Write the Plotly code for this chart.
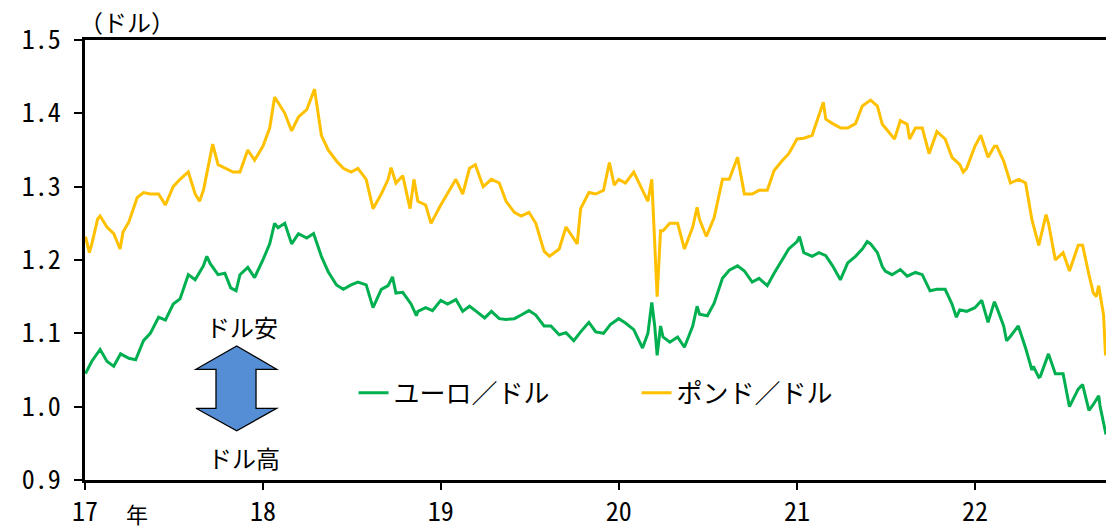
import plotly.graph_objects as go

# ユーロ／ドル (semi-monthly read-off plus turning points)
eur_dates = [
    "2017-01-02", "2017-01-15", "2017-02-01", "2017-02-15", "2017-03-01", "2017-03-15",
    "2017-04-01", "2017-04-15", "2017-05-01", "2017-05-15", "2017-06-01", "2017-06-15",
    "2017-07-01", "2017-07-15", "2017-08-01", "2017-08-15", "2017-09-01", "2017-09-08",
    "2017-09-15", "2017-10-01", "2017-10-15", "2017-10-27", "2017-11-07", "2017-11-15",
    "2017-12-01", "2017-12-15",
    "2018-01-01", "2018-01-15", "2018-01-25", "2018-02-01", "2018-02-15", "2018-03-01",
    "2018-03-15", "2018-04-01", "2018-04-15", "2018-05-01", "2018-05-15", "2018-06-01",
    "2018-06-15", "2018-07-01", "2018-07-15", "2018-08-01", "2018-08-15", "2018-09-01",
    "2018-09-15", "2018-09-24", "2018-10-01", "2018-10-15", "2018-11-01", "2018-11-12",
    "2018-11-15", "2018-12-01", "2018-12-15",
    "2019-01-01", "2019-01-15", "2019-02-01", "2019-02-15", "2019-03-01", "2019-03-15",
    "2019-04-01", "2019-04-15", "2019-05-01", "2019-05-15", "2019-06-01", "2019-06-15",
    "2019-07-01", "2019-07-15", "2019-08-01", "2019-08-15", "2019-09-01", "2019-09-15",
    "2019-10-01", "2019-10-15", "2019-11-01", "2019-11-15", "2019-12-01", "2019-12-15",
    "2020-01-01", "2020-01-15", "2020-02-01", "2020-02-19", "2020-03-01", "2020-03-09",
    "2020-03-15", "2020-03-20", "2020-03-27", "2020-04-01", "2020-04-15", "2020-05-01",
    "2020-05-15", "2020-06-01", "2020-06-10", "2020-06-15", "2020-07-01", "2020-07-15",
    "2020-08-01", "2020-08-15", "2020-09-01", "2020-09-15", "2020-10-01", "2020-10-15",
    "2020-11-01", "2020-11-15", "2020-12-01", "2020-12-15",
    "2021-01-01", "2021-01-06", "2021-01-15", "2021-02-01", "2021-02-15", "2021-03-01",
    "2021-03-15", "2021-03-31", "2021-04-15", "2021-05-01", "2021-05-15", "2021-05-25",
    "2021-06-01", "2021-06-15", "2021-06-25", "2021-07-01", "2021-07-15", "2021-08-01",
    "2021-08-15", "2021-09-01", "2021-09-15", "2021-10-01", "2021-10-15", "2021-11-01",
    "2021-11-15", "2021-11-24", "2021-12-01", "2021-12-15",
    "2022-01-01", "2022-01-15", "2022-01-28", "2022-02-01", "2022-02-10", "2022-02-15",
    "2022-03-01", "2022-03-07", "2022-03-15", "2022-03-31", "2022-04-15", "2022-04-28",
    "2022-05-01", "2022-05-12", "2022-05-15", "2022-06-01", "2022-06-15", "2022-07-01",
    "2022-07-14", "2022-08-01", "2022-08-10", "2022-08-23", "2022-09-01", "2022-09-12",
    "2022-09-15", "2022-09-27",
]
eur_values = [
    1.045, 1.062, 1.078, 1.062, 1.055, 1.072,
    1.066, 1.064, 1.090, 1.100, 1.122, 1.118,
    1.140, 1.147, 1.180, 1.173, 1.192, 1.205,
    1.195, 1.180, 1.182, 1.162, 1.158, 1.180,
    1.190, 1.176,
    1.200, 1.222, 1.250, 1.244, 1.250, 1.222,
    1.236, 1.230, 1.236, 1.205, 1.184, 1.166,
    1.160, 1.166, 1.170, 1.166, 1.135, 1.160,
    1.165, 1.177, 1.155, 1.156, 1.140, 1.124,
    1.130, 1.135, 1.131,
    1.145, 1.140, 1.146, 1.130, 1.137, 1.130,
    1.121, 1.130, 1.120, 1.119, 1.120, 1.125,
    1.131, 1.125, 1.110, 1.110, 1.098, 1.101,
    1.090, 1.102, 1.115, 1.102, 1.100, 1.112,
    1.120, 1.114, 1.105, 1.080, 1.100, 1.142,
    1.110, 1.070, 1.110, 1.095, 1.088, 1.095,
    1.081, 1.110, 1.137, 1.126, 1.124, 1.141,
    1.175, 1.186, 1.192, 1.185, 1.170, 1.175,
    1.165, 1.182, 1.200, 1.215,
    1.225, 1.232, 1.210, 1.205, 1.210, 1.206,
    1.192, 1.173, 1.196, 1.205, 1.215, 1.225,
    1.222, 1.210, 1.191, 1.185, 1.180, 1.187,
    1.178, 1.183, 1.180, 1.158, 1.160, 1.160,
    1.140, 1.122, 1.132, 1.130,
    1.135, 1.145, 1.115, 1.124, 1.143, 1.135,
    1.110, 1.090, 1.096, 1.110, 1.080, 1.050,
    1.055, 1.040, 1.041, 1.072, 1.045, 1.045,
    1.000, 1.024, 1.030, 0.995, 1.003, 1.015,
    1.000, 0.962,
]

# ポンド／ドル
gbp_dates = [
    "2017-01-02", "2017-01-10", "2017-01-15", "2017-01-27", "2017-02-01", "2017-02-15",
    "2017-03-01", "2017-03-14", "2017-03-20", "2017-04-01", "2017-04-18", "2017-05-01",
    "2017-05-15", "2017-06-01", "2017-06-15", "2017-07-01", "2017-07-15", "2017-08-01",
    "2017-08-15", "2017-08-24", "2017-09-01", "2017-09-20", "2017-10-01", "2017-10-15",
    "2017-11-01", "2017-11-15", "2017-12-01", "2017-12-15",
    "2018-01-01", "2018-01-15", "2018-01-25", "2018-02-01", "2018-02-15", "2018-03-01",
    "2018-03-15", "2018-04-01", "2018-04-17", "2018-05-01", "2018-05-15", "2018-06-01",
    "2018-06-15", "2018-07-01", "2018-07-15", "2018-08-01", "2018-08-15", "2018-09-01",
    "2018-09-15", "2018-09-21", "2018-10-01", "2018-10-15", "2018-10-30", "2018-11-07",
    "2018-11-15", "2018-12-01", "2018-12-12",
    "2019-01-01", "2019-01-15", "2019-02-01", "2019-02-15", "2019-03-01", "2019-03-13",
    "2019-03-29", "2019-04-15", "2019-05-01", "2019-05-15", "2019-06-01", "2019-06-15",
    "2019-07-01", "2019-07-15", "2019-08-01", "2019-08-12", "2019-09-01", "2019-09-15",
    "2019-10-01", "2019-10-08", "2019-10-15", "2019-11-01", "2019-11-15", "2019-12-01",
    "2019-12-13", "2019-12-23",
    "2020-01-01", "2020-01-15", "2020-02-01", "2020-02-15", "2020-03-01", "2020-03-09",
    "2020-03-15", "2020-03-20", "2020-03-27", "2020-04-01", "2020-04-15", "2020-05-01",
    "2020-05-15", "2020-06-01", "2020-06-10", "2020-06-15", "2020-06-29", "2020-07-15",
    "2020-08-01", "2020-08-15", "2020-09-01", "2020-09-15", "2020-10-01", "2020-10-15",
    "2020-11-01", "2020-11-15", "2020-12-01", "2020-12-15",
    "2021-01-01", "2021-01-15", "2021-02-01", "2021-02-24", "2021-03-01", "2021-03-15",
    "2021-04-01", "2021-04-15", "2021-05-01", "2021-05-15", "2021-06-01", "2021-06-15",
    "2021-06-25", "2021-07-01", "2021-07-20", "2021-08-01", "2021-08-15", "2021-08-20",
    "2021-09-01", "2021-09-15", "2021-09-29", "2021-10-15", "2021-11-01", "2021-11-15",
    "2021-12-01", "2021-12-08", "2021-12-15",
    "2022-01-01", "2022-01-13", "2022-01-28", "2022-02-10", "2022-02-15", "2022-03-01",
    "2022-03-15", "2022-04-01", "2022-04-15", "2022-04-28", "2022-05-12", "2022-05-27",
    "2022-06-01", "2022-06-15", "2022-07-01", "2022-07-14", "2022-08-01", "2022-08-10",
    "2022-08-23", "2022-09-01", "2022-09-07", "2022-09-12", "2022-09-22", "2022-09-26",
    "2022-09-27",
]
gbp_values = [
    1.232, 1.210, 1.222, 1.256, 1.260, 1.245,
    1.236, 1.215, 1.238, 1.252, 1.285, 1.292,
    1.290, 1.290, 1.275, 1.300, 1.310, 1.320,
    1.290, 1.280, 1.295, 1.358, 1.330, 1.325,
    1.320, 1.320, 1.350, 1.336,
    1.355, 1.380, 1.422, 1.415, 1.400, 1.376,
    1.395, 1.405, 1.433, 1.370, 1.350, 1.335,
    1.325, 1.320, 1.325, 1.310, 1.270, 1.290,
    1.310, 1.326, 1.305, 1.315, 1.270, 1.310,
    1.280, 1.275, 1.250,
    1.275, 1.290, 1.310, 1.290, 1.325, 1.330,
    1.300, 1.310, 1.305, 1.280, 1.265, 1.260,
    1.265, 1.250, 1.212, 1.205, 1.215, 1.245,
    1.230, 1.222, 1.270, 1.292, 1.290, 1.295,
    1.333, 1.302,
    1.310, 1.305, 1.320, 1.300, 1.280, 1.310,
    1.230, 1.150, 1.240, 1.240, 1.250, 1.250,
    1.215, 1.245, 1.272, 1.255, 1.232, 1.258,
    1.310, 1.310, 1.340, 1.290, 1.290, 1.295,
    1.295, 1.322, 1.335, 1.345,
    1.365, 1.366, 1.370, 1.415, 1.392, 1.386,
    1.380, 1.380, 1.386, 1.410, 1.418, 1.410,
    1.385, 1.380, 1.365, 1.390, 1.385, 1.365,
    1.380, 1.380, 1.345, 1.375, 1.365, 1.340,
    1.330, 1.320, 1.325,
    1.355, 1.370, 1.340, 1.355, 1.355, 1.335,
    1.305, 1.310, 1.305, 1.255, 1.220, 1.262,
    1.250, 1.200, 1.210, 1.185, 1.220, 1.220,
    1.180, 1.155, 1.150, 1.165, 1.125, 1.070,
    1.085,
]

year_ticks = ["2017-01-01", "2018-01-01", "2019-01-01", "2020-01-01", "2021-01-01", "2022-01-01"]
year_labels = ["17", "18", "19", "20", "21", "22"]
y_ticks = [0.9, 1.0, 1.1, 1.2, 1.3, 1.4, 1.5]
y_labels = ["0.9", "1.0", "1.1", "1.2", "1.3", "1.4", "1.5"]

JP = "Noto Sans CJK JP"
NUM = "Noto Sans Mono CJK JP, Noto Sans CJK JP"

fig = go.Figure()
fig.add_trace(go.Scatter(x=eur_dates, y=eur_values, mode="lines", name="ユーロ／ドル",
                         line=dict(color="#00B050", width=3)))
fig.add_trace(go.Scatter(x=gbp_dates, y=gbp_values, mode="lines", name="ポンド／ドル",
                         line=dict(color="#FFC000", width=3)))

# double arrow (ドル安 / ドル高)
fig.add_shape(
    type="path", xref="paper", yref="paper",
    path="M 0.1486,0.3045 L 0.1877,0.2516 L 0.1675,0.2516 L 0.1675,0.1630 L 0.1877,0.1630 "
         "L 0.1486,0.1120 L 0.1087,0.1630 L 0.1283,0.1630 L 0.1283,0.2516 L 0.1087,0.2516 Z",
    fillcolor="#558ED5", line=dict(color="black", width=1.3),
)

ann = dict(xref="paper", yref="paper", showarrow=False, xanchor="center", yanchor="middle",
           font=dict(family=JP, size=24, color="black"))
fig.add_annotation(text="ドル安", x=0.154, y=0.35, **ann)
fig.add_annotation(text="ドル高", x=0.156, y=0.051, **ann)
fig.add_annotation(text="年", x=0.051, y=-0.076, xref="paper", yref="paper", showarrow=False,
                   xanchor="center", yanchor="middle", borderpad=0,
                   font=dict(family=JP, size=22, color="black"))
fig.add_annotation(text="（ドル）", x=-0.008, y=1.042, xanchor="left", yanchor="middle",
                   xref="paper", yref="paper", showarrow=False,
                   font=dict(family=JP, size=24, color="black"))

fig.update_layout(
    width=1106, height=531,
    margin=dict(l=85, r=0, t=40, b=51),
    plot_bgcolor="white", paper_bgcolor="white",
    font=dict(family=JP, color="black"),
    showlegend=True,
    legend=dict(orientation="h", x=0.263, y=0.198, xanchor="left", yanchor="middle",
                bgcolor="rgba(0,0,0,0)", font=dict(family=JP, size=26),
                entrywidth=238, entrywidthmode="pixels"),
    xaxis=dict(
        type="date", range=["2017-01-01", "2022-09-27"],
        tickvals=year_ticks, ticktext=year_labels,
        showgrid=False, zeroline=False,
        showline=True, linecolor="black", linewidth=3, mirror=True,
        ticks="outside", ticklen=7, tickwidth=2, tickcolor="black",
        tickfont=dict(family=NUM, size=26, color="black"),
    ),
    yaxis=dict(
        range=[0.9, 1.5], tickvals=y_ticks, ticktext=y_labels,
        showgrid=False, zeroline=False,
        showline=True, linecolor="black", linewidth=3,
        ticks="outside", ticklen=8, tickwidth=2, tickcolor="black",
        ticklabelstandoff=8,
        tickfont=dict(family=NUM, size=26, color="black"),
    ),
)

fig.write_html("out.html", config={"displayModeBar": False},
               post_script="document.body.style.margin='0';")
